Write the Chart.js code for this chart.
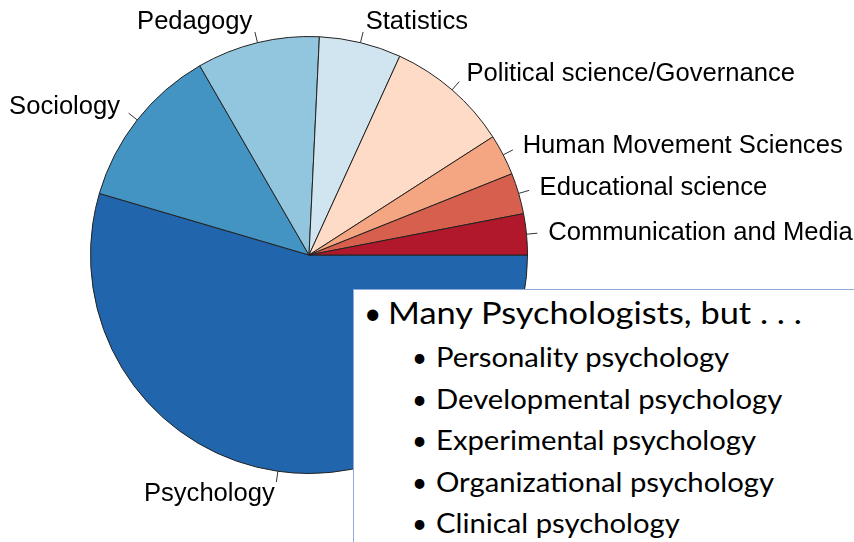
<!DOCTYPE html>
<html><head><meta charset="utf-8">
<script src="https://cdn.jsdelivr.net/npm/chart.js@4"></script>
<style>
html,body{margin:0;padding:0;background:#fff;}
#wrap{position:relative;width:854px;height:542px;overflow:hidden;background:#fff;}
#c{position:absolute;left:0;top:0;}
#box{position:absolute;left:353px;top:289px;width:540px;height:300px;border:1px solid #8FAADC;background:#fff;}
.t{position:absolute;font-family:Lato,'Open Sans',sans-serif;color:#000;line-height:1;white-space:nowrap;transform-origin:0 0;}
.m{font-size:30px;}
.s{font-size:26px;}
.mx{transform:scaleX(1.146);}
.sx{transform:scaleX(1.125);}
</style></head><body>
<div id="wrap">
<canvas id="c" width="854" height="542"></canvas>
<div id="box"></div>
<div class="t m" style="left:364px;top:296.7px">•</div>
<div class="t m mx" style="left:388px;top:296.7px">Many Psychologists, but . . .</div>
<div class="t s" style="left:412px;top:343.6px">•</div>
<div class="t s sx" style="left:436px;top:343.6px">Personality psychology</div>
<div class="t s" style="left:412px;top:386.2px">•</div>
<div class="t s sx" style="left:436px;top:386.2px">Developmental psychology</div>
<div class="t s" style="left:412px;top:426.9px">•</div>
<div class="t s sx" style="left:436px;top:426.9px">Experimental psychology</div>
<div class="t s" style="left:412px;top:468.6px">•</div>
<div class="t s sx" style="left:436px;top:468.6px">Organizational psychology</div>
<div class="t s" style="left:412px;top:510.2px">•</div>
<div class="t s sx" style="left:436px;top:510.2px">Clinical psychology</div>
</div>
<script>
// Categories in clockwise drawing order starting at 3 o'clock
const categories = ['Psychology','Sociology','Pedagogy','Statistics','Political science/Governance','Human Movement Sciences','Educational science','Communication and Media'];
const counts = [18, 4, 3, 2, 3, 1, 1, 1];
const colors = ['#2166AC','#4393C3','#92C5DE','#D1E5F0','#FDDBC7','#F4A582','#D6604D','#B2182B'];

const pieLabels = {
  id: 'pieLabels',
  afterDatasetsDraw(chart) {
    const ctx = chart.ctx;
    const meta = chart.getDatasetMeta(0);
    ctx.save();
    ctx.font = '25.6px "Liberation Sans", Arial, sans-serif';
    ctx.textBaseline = 'middle';
    meta.data.forEach((arc, i) => {
      const p = arc.getProps(['x','y','startAngle','endAngle','outerRadius'], true);
      const mid = (p.startAngle + p.endAngle) / 2;
      const c = Math.cos(mid), s = Math.sin(mid);
      const r = p.outerRadius;
      ctx.strokeStyle = '#333';
      ctx.lineWidth = 1;
      ctx.beginPath();
      ctx.moveTo(p.x + c * r, p.y + s * r);
      ctx.lineTo(p.x + c * r * 1.05, p.y + s * r * 1.05);
      ctx.stroke();
      ctx.fillStyle = '#000';
      ctx.textAlign = c < 0 ? 'right' : 'left';
      ctx.fillText(chart.data.labels[i], p.x + c * r * 1.1, p.y + s * r * 1.1 + 1);
    });
    ctx.restore();
  }
};

new Chart(document.getElementById('c'), {
  type: 'pie',
  data: {
    labels: categories,
    datasets: [{
      data: counts,
      backgroundColor: colors,
      borderColor: '#222',
      borderWidth: 1
    }]
  },
  options: {
    responsive: false,
    animation: false,
    rotation: 90,
    layout: { padding: { left: 90, right: 326, top: 36, bottom: 68 } },
    plugins: { legend: { display: false }, tooltip: { enabled: false } }
  },
  plugins: [pieLabels]
});
</script>
</body></html>
